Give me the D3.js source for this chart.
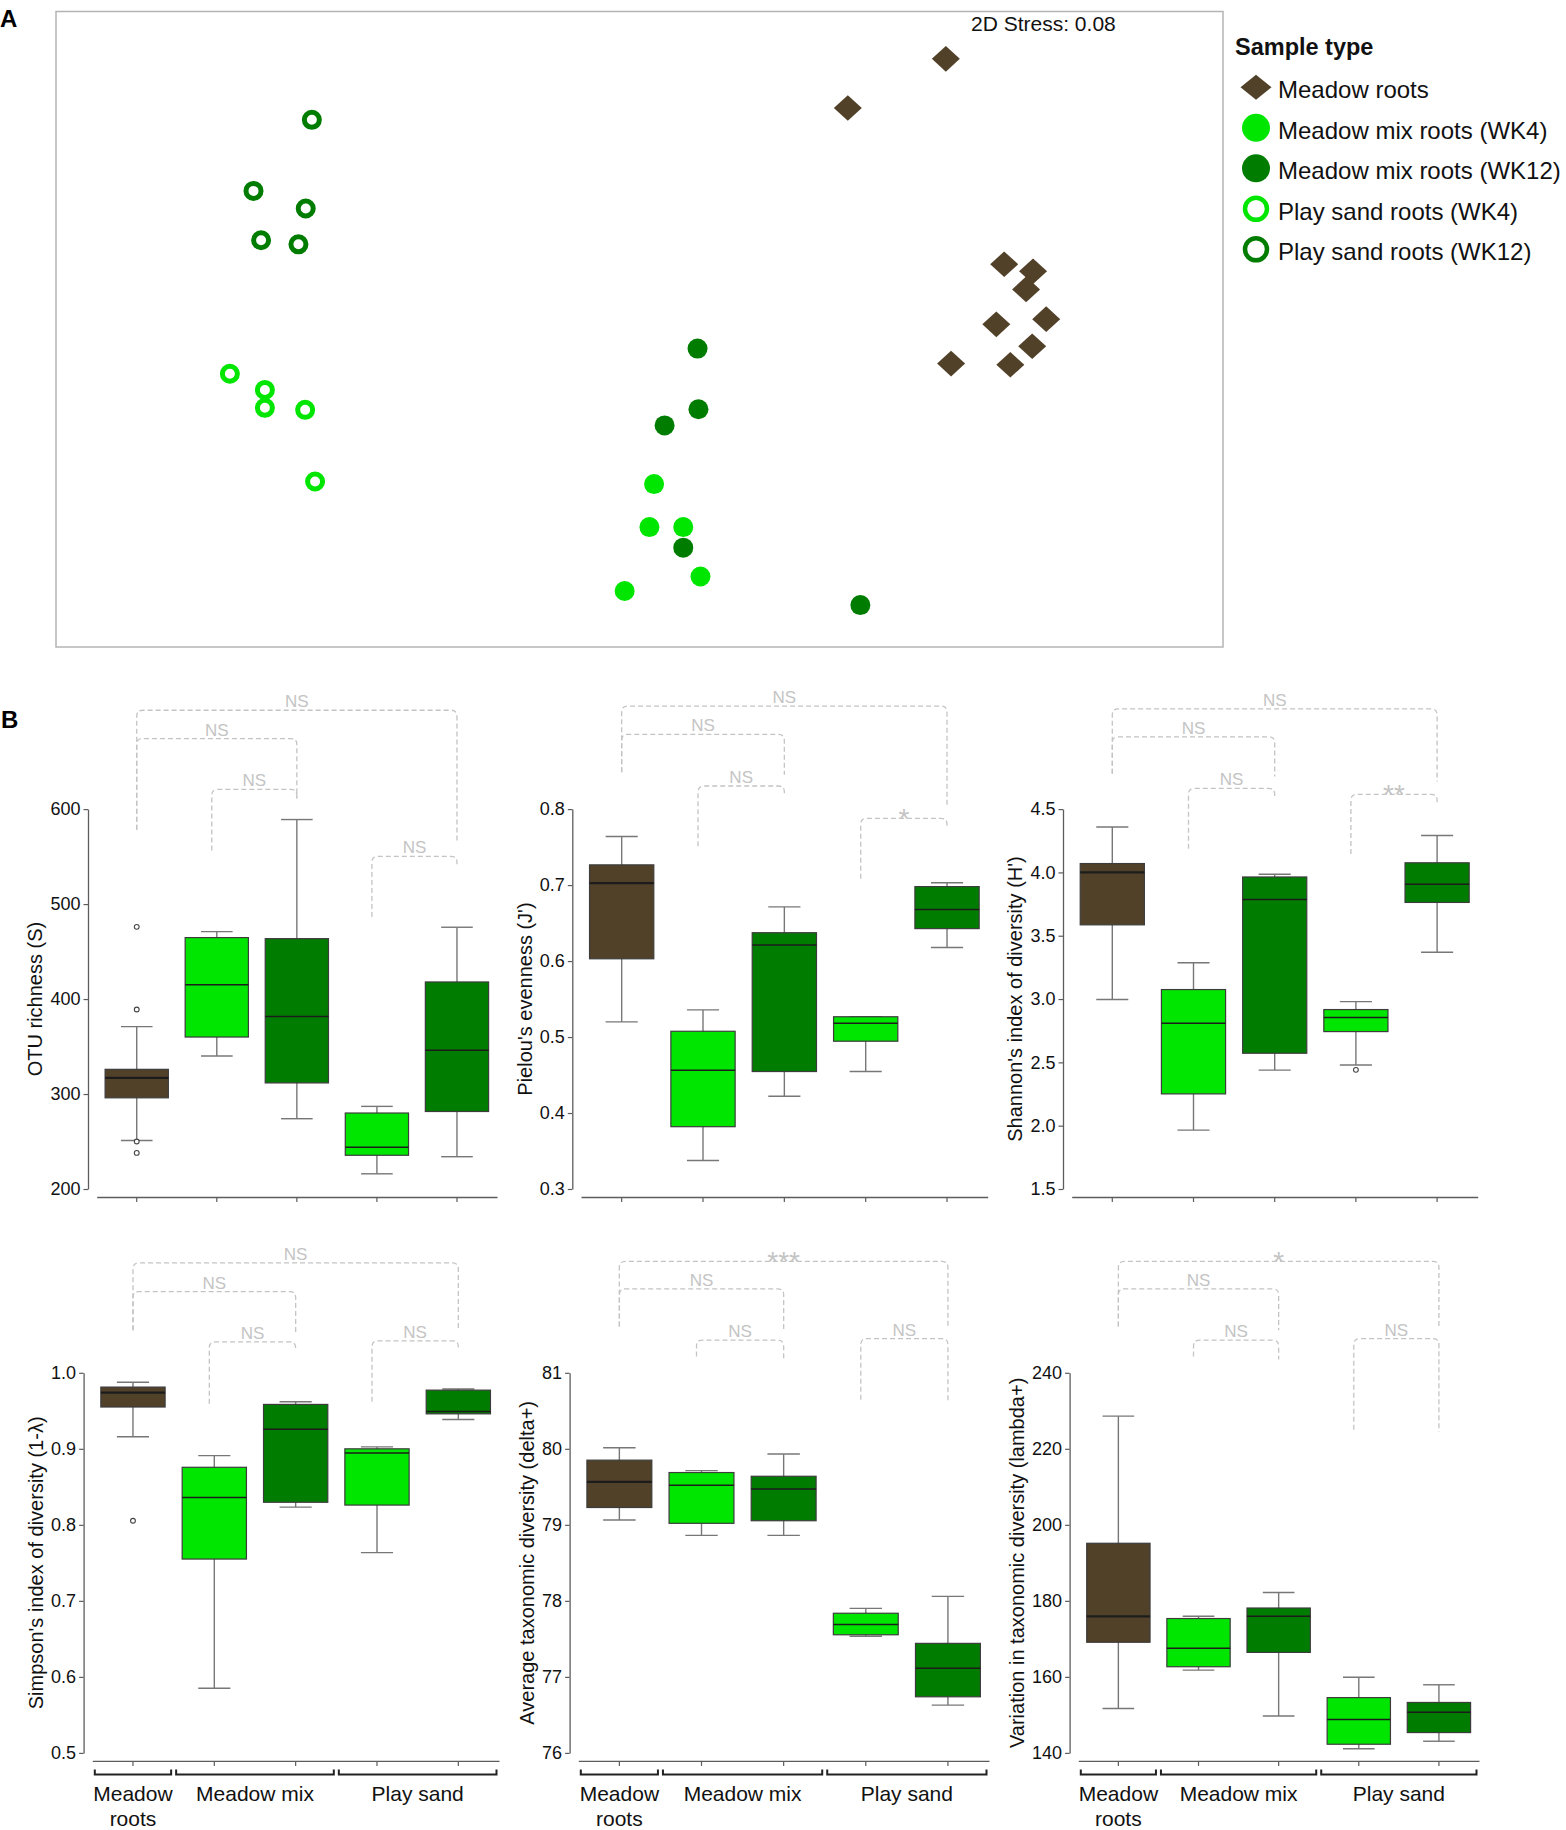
<!DOCTYPE html>
<html>
<head>
<meta charset="utf-8">
<script src="https://cdn.jsdelivr.net/npm/d3@7"></script>
<style>
  body { margin: 0; background: #fff; }
  svg { display: block; }
  text { font-family: "Liberation Sans", Arial, sans-serif; }
</style>
</head>
<body>
<svg id="chart"></svg>
<script>
const WIDTH = 1566, HEIGHT = 1830;

// sample types, in legend order
const sampleTypes = ["Meadow roots", "Meadow mix roots (WK4)", "Meadow mix roots (WK12)",
                     "Play sand roots (WK4)", "Play sand roots (WK12)"];
const typeColors = ["#524129", "#00e600", "#007d00", "#00e600", "#007d00"];
const typeShapes = ["diamond", "dot", "dot", "ring", "ring"];

// NMDS ordination (panel A), [NMDS1, NMDS2]
const nmdsMeadowRoots = [[1.05, 0.936], [0.714, 0.766], [1.25, 0.225], [1.349, 0.201], [1.325, 0.138],
                         [1.394, 0.035], [1.223, 0.017], [1.346, -0.059], [1.068, -0.119], [1.271, -0.123]];
const nmdsMixWK4 = [[0.050, -0.536], [0.034, -0.685], [0.150, -0.685], [0.209, -0.856], [-0.051, -0.906]];
const nmdsMixWK12 = [[0.199, -0.067], [0.202, -0.277], [0.086, -0.333], [0.150, -0.756], [0.757, -0.955]];
const nmdsSandWK4 = [[-1.404, -0.154], [-1.284, -0.210], [-1.284, -0.272], [-1.146, -0.279], [-1.112, -0.527]];
const nmdsSandWK12 = [[-1.123, 0.725], [-1.323, 0.479], [-1.144, 0.418], [-1.297, 0.308], [-1.169, 0.294]];
const nmdsGroups = [nmdsMeadowRoots, nmdsMixWK4, nmdsMixWK12, nmdsSandWK4, nmdsSandWK12];
const stressText = "2D Stress: 0.08";

// box stats per sample type: [lower whisker, Q1, median, Q3, upper whisker]
const otuStats = [[251, 296, 317, 326, 371], [340, 360, 415, 464.7, 471], [274, 311.7, 381.7, 463.6, 589],
                  [216, 235.5, 244, 280, 287], [234, 281.6, 346, 418, 475.6]];
const otuOutliers = [[0, 476], [0, 389], [0, 250], [0, 238]];
const pielouStats = [[0.520, 0.603, 0.7025, 0.7266, 0.764], [0.3376, 0.382, 0.4564, 0.5076, 0.5357],
                     [0.422, 0.4546, 0.621, 0.6373, 0.6713], [0.4546, 0.4945, 0.518, 0.5267, 0.5267],
                     [0.6178, 0.6427, 0.668, 0.698, 0.703]];
const shannonStats = [[2.996, 3.586, 4.0, 4.070, 4.359], [1.965, 2.251, 2.808, 3.075, 3.287],
                      [2.439, 2.572, 3.787, 3.964, 3.986], [2.479, 2.743, 2.855, 2.917, 2.980],
                      [3.369, 3.763, 3.907, 4.076, 4.291]];
const shannonOutliers = [[3, 2.441]];
const simpsonStats = [[0.9158, 0.955, 0.974, 0.9812, 0.9876], [0.5851, 0.755, 0.8361, 0.8757, 0.891],
                      [0.8233, 0.8297, 0.9257, 0.9584, 0.9619], [0.7634, 0.826, 0.8946, 0.90, 0.9025],
                      [0.9386, 0.946, 0.949, 0.9772, 0.9787]];
const simpsonOutliers = [[0, 0.8054]];
const deltaStats = [[79.064, 79.228, 79.564, 79.851, 80.015], [78.861, 79.02, 79.52, 79.688, 79.713],
                    [78.861, 79.054, 79.47, 79.639, 79.931], [77.535, 77.554, 77.688, 77.837, 77.901],
                    [76.629, 76.738, 77.114, 77.441, 78.059]];
const lambdaStats = [[151.68, 169.11, 175.94, 195.15, 228.6], [161.78, 162.67, 167.52, 175.35, 175.94],
                     [149.7, 166.44, 175.94, 178.12, 182.18], [141.09, 142.28, 148.81, 154.55, 159.9],
                     [143.07, 145.35, 150.69, 153.27, 157.92]];

// significance brackets: [from, to, bar level, left arm end, right arm end, label] (data units)
const otuBrackets = [[0, 4, 704.1, 578.2, 565.5, "NS"], [0, 2, 674.3, 578.2, 610.9, "NS"],
                     [1, 2, 620.7, 556.5, 610.9, "NS"], [3, 4, 550.3, 486.5, 542, "NS"]];
const pielouBrackets = [[0, 4, 0.9355, 0.8485, 0.8045, "NS"], [0, 2, 0.8984, 0.8485, 0.8453, "NS"],
                        [1, 2, 0.8304, 0.751, 0.8204, "NS"], [3, 4, 0.7878, 0.7084, 0.7773, "*"]];
const shannonBrackets = [[0, 4, 5.291, 4.780, 4.718, "NS"], [0, 2, 5.071, 4.780, 4.758, "NS"],
                         [1, 2, 4.663, 4.187, 4.601, "NS"], [3, 4, 4.617, 4.146, 4.554, "**"]];
const simpsonBrackets = [[0, 4, 1.1446, 1.0559, 1.0559, "NS"], [0, 2, 1.1069, 1.0559, 1.051, "NS"],
                         [1, 2, 1.0406, 0.9594, 1.0287, "NS"], [3, 4, 1.0421, 0.9619, 1.0312, "NS"]];
const deltaBrackets = [[0, 4, 82.465, 81.609, 81.584, "***"], [0, 2, 82.104, 81.609, 81.559, "NS"],
                       [1, 2, 81.431, 81.213, 81.173, "NS"], [3, 4, 81.45, 80.644, 80.619, "NS"]];
const lambdaBrackets = [[0, 4, 269.3, 252.2, 252.0, "*"], [0, 2, 262.1, 252.2, 251.2, "NS"],
                        [1, 2, 248.6, 244.3, 243.5, "NS"], [3, 4, 249.0, 225.0, 224.5, "NS"]];

// x-axis groups (bottom row)
const groupLabels = [["Meadow", "roots"], ["Meadow mix"], ["Play sand"]];
const groupSpans = [[0, 0], [1, 2], [3, 4]];

const panels = [
  { title: "OTU richness (S)", stats: otuStats, outliers: otuOutliers, brackets: otuBrackets,
    ticks: [200, 300, 400, 500, 600], fmt: "d", row: 0, col: 0 },
  { title: "Pielou's evenness (J')", stats: pielouStats, outliers: [], brackets: pielouBrackets,
    ticks: [0.3, 0.4, 0.5, 0.6, 0.7, 0.8], fmt: ".1f", row: 0, col: 1 },
  { title: "Shannon's index of diversity (H')", stats: shannonStats, outliers: shannonOutliers, brackets: shannonBrackets,
    ticks: [1.5, 2.0, 2.5, 3.0, 3.5, 4.0, 4.5], fmt: ".1f", row: 0, col: 2 },
  { title: "Simpson's index of diversity (1-λ)", stats: simpsonStats, outliers: simpsonOutliers, brackets: simpsonBrackets,
    ticks: [0.5, 0.6, 0.7, 0.8, 0.9, 1.0], fmt: ".1f", row: 1, col: 0 },
  { title: "Average taxonomic diversity (delta+)", stats: deltaStats, outliers: [], brackets: deltaBrackets,
    ticks: [76, 77, 78, 79, 80, 81], fmt: "d", row: 1, col: 1 },
  { title: "Variation in taxonomic diversity (lambda+)", stats: lambdaStats, outliers: [], brackets: lambdaBrackets,
    ticks: [140, 160, 180, 200, 220, 240], fmt: "d", row: 1, col: 2 }
];

// layout
const rowTop = [809.1, 1372.8], rowBottom = [1189.0, 1752.9];
const colSpans = [[[96.7, 497], [581, 987.7], [1071.7, 1477.7]],
                  [[92.3, 499], [578.3, 989], [1078.3, 1479]]];
const AXIS_GRAY = "#5c5c5c", SIG_GRAY = "#c4c4c4";

const svg = d3.select("#chart").attr("width", WIDTH).attr("height", HEIGHT)
  .attr("viewBox", `0 0 ${WIDTH} ${HEIGHT}`);

// ---------- panel A: NMDS ----------
const nx = d3.scaleLinear().domain([-2, 2]).range([56, 1223]);
const ny = d3.scaleLinear().domain([-1.1, 1.1]).range([647, 11.5]);

svg.append("text").attr("x", 0).attr("y", 27).style("font-size", "24px").style("font-weight", "bold").text("A");

svg.append("rect")
  .attr("x", nx.range()[0]).attr("y", ny.range()[1])
  .attr("width", nx.range()[1] - nx.range()[0]).attr("height", ny.range()[0] - ny.range()[1])
  .attr("fill", "none").attr("stroke", "#b4b4b4").attr("stroke-width", 1.5);

svg.append("text").attr("x", 971).attr("y", 31).style("font-size", "21px").attr("fill", "#111").text(stressText);

function drawMarker(g, shape, color, cx, cy, big) {
  if (shape === "diamond") {
    const w = big ? 15.5 : 14, h = big ? 12.5 : 12.8;
    g.append("path").attr("d", `M${cx},${cy - h}L${cx + w},${cy}L${cx},${cy + h}L${cx - w},${cy}Z`).attr("fill", color);
  } else if (shape === "dot") {
    g.append("circle").attr("cx", cx).attr("cy", cy).attr("r", big ? 14 : 10).attr("fill", color);
  } else {
    g.append("circle").attr("cx", cx).attr("cy", cy).attr("r", big ? 11 : 7.5)
      .attr("fill", "#fff").attr("stroke", color).attr("stroke-width", big ? 4.5 : 5);
  }
}

const pts = svg.append("g");
nmdsGroups.forEach((grp, k) => {
  grp.forEach(d => drawMarker(pts, typeShapes[k], typeColors[k], nx(d[0]), ny(d[1]), false));
});

const legend = svg.append("g");
legend.append("text").attr("x", 1235).attr("y", 55).style("font-size", "23.5px").style("font-weight", "bold")
  .attr("fill", "#111").text("Sample type");
sampleTypes.forEach((name, k) => {
  const cy = 87.3 + k * 40.5;
  drawMarker(legend, typeShapes[k], typeColors[k], 1256, cy, true);
  legend.append("text").attr("x", 1278).attr("y", cy + 11).style("font-size", "24px").attr("fill", "#111").text(name);
});

// ---------- panel B: box plots ----------
svg.append("text").attr("x", 1).attr("y", 728).style("font-size", "24px").style("font-weight", "bold").text("B");

panels.forEach(p => {
  const [x0, x1] = colSpans[p.row][p.col];
  const top = rowTop[p.row], bot = rowBottom[p.row];
  const axisX = x0 - 8.7, axisY = bot + 8;
  const g = svg.append("g");

  const x = d3.scaleBand().domain(d3.range(5)).range([x0, x1]).padding(0);
  const y = d3.scaleLinear().domain([p.ticks[0], p.ticks[p.ticks.length - 1]]).range([bot, top]);
  const cx = i => x(i) + x.bandwidth() / 2;

  // y axis
  const ya = g.append("g").attr("transform", `translate(${axisX},0)`)
    .call(d3.axisLeft(y).tickValues(p.ticks).tickFormat(d3.format(p.fmt)).tickSize(4.5).tickSizeOuter(0).tickPadding(3));
  ya.select(".domain").attr("stroke", AXIS_GRAY).attr("stroke-width", 1.3);
  ya.selectAll(".tick line").attr("stroke", AXIS_GRAY).attr("stroke-width", 1.2);
  ya.selectAll(".tick text").style("font-size", "18px").attr("fill", "#111")
    .style("font-family", '"Liberation Sans", Arial, sans-serif');
  let maxW = 0;
  ya.selectAll(".tick text").each(function () { maxW = Math.max(maxW, this.getComputedTextLength()); });

  const tx = axisX - 7.5 - maxW - 15, ty = (top + bot) / 2;
  g.append("text").attr("transform", `translate(${tx},${ty}) rotate(-90)`).attr("dy", "0.35em")
    .attr("text-anchor", "middle").style("font-size", "20px").attr("fill", "#111").text(p.title);

  // x axis
  const xa = g.append("g").attr("transform", `translate(0,${axisY})`)
    .call(d3.axisBottom(x).tickSize(5).tickSizeOuter(0).tickFormat(""));
  xa.select(".domain").attr("stroke", AXIS_GRAY).attr("stroke-width", 1.3);
  xa.selectAll(".tick line").attr("stroke", AXIS_GRAY).attr("stroke-width", 1.2);

  // boxes
  const bw = x.bandwidth() * 0.79, capW = bw / 2;
  p.stats.forEach((s, i) => {
    const [lo, q1, med, q3, hi] = s;
    const c = cx(i);
    g.append("line").attr("x1", c).attr("x2", c).attr("y1", y(hi)).attr("y2", y(lo))
      .attr("stroke", "#777").attr("stroke-width", 1.4);
    [lo, hi].forEach(v => g.append("line").attr("x1", c - capW / 2).attr("x2", c + capW / 2)
      .attr("y1", y(v)).attr("y2", y(v)).attr("stroke", "#777").attr("stroke-width", 1.4));
    g.append("rect").attr("x", c - bw / 2).attr("y", y(q3)).attr("width", bw).attr("height", y(q1) - y(q3))
      .attr("fill", typeColors[i]).attr("stroke", "#3c3c3c").attr("stroke-width", 1.2);
    g.append("line").attr("x1", c - bw / 2).attr("x2", c + bw / 2).attr("y1", y(med)).attr("y2", y(med))
      .attr("stroke", "#1c1c1c").attr("stroke-width", i === 0 ? 2.2 : 1.5);
  });

  p.outliers.forEach(([i, v]) => {
    g.append("circle").attr("cx", cx(i)).attr("cy", y(v)).attr("r", 2.4)
      .attr("fill", "#fff").attr("stroke", "#444").attr("stroke-width", 1.1);
  });

  // significance brackets
  p.brackets.forEach(([i, j, lvl, le, re, label]) => {
    const adjacent = j - i === 1;
    const xl = cx(i) - (adjacent ? 5 : 0), xr = cx(j);
    const yb = y(lvl), r = 6;
    g.append("path")
      .attr("d", `M${xl},${y(le)}L${xl},${yb + r}Q${xl},${yb} ${xl + r},${yb}L${xr - r},${yb}Q${xr},${yb} ${xr},${yb + r}L${xr},${y(re)}`)
      .attr("fill", "none").attr("stroke", SIG_GRAY).attr("stroke-width", 1.3).attr("stroke-dasharray", "5,3");
    const star = label.startsWith("*");
    g.append("text").attr("x", (xl + xr) / 2).attr("y", star ? yb + 10 : yb - 3)
      .attr("text-anchor", "middle").style("font-size", star ? "28px" : "17px").attr("fill", SIG_GRAY).text(label);
  });

  // category groups (bottom row only)
  if (p.row === 1) {
    groupSpans.forEach(([a, b], k) => {
      const gl = x(a) + 2.5, gr = x(b) + x.bandwidth() - 2.5;
      const gy = axisY + 13.5;
      g.append("path").attr("d", `M${gl},${gy - 5}L${gl},${gy}L${gr},${gy}L${gr},${gy - 5}`)
        .attr("fill", "none").attr("stroke", "#222").attr("stroke-width", 2);
      groupLabels[k].forEach((line, li) => {
        g.append("text").attr("x", (gl + gr) / 2).attr("y", axisY + 40 + li * 25)
          .attr("text-anchor", "middle").style("font-size", "21px").attr("fill", "#111").text(line);
      });
    });
  }
});
</script>
</body>
</html>
